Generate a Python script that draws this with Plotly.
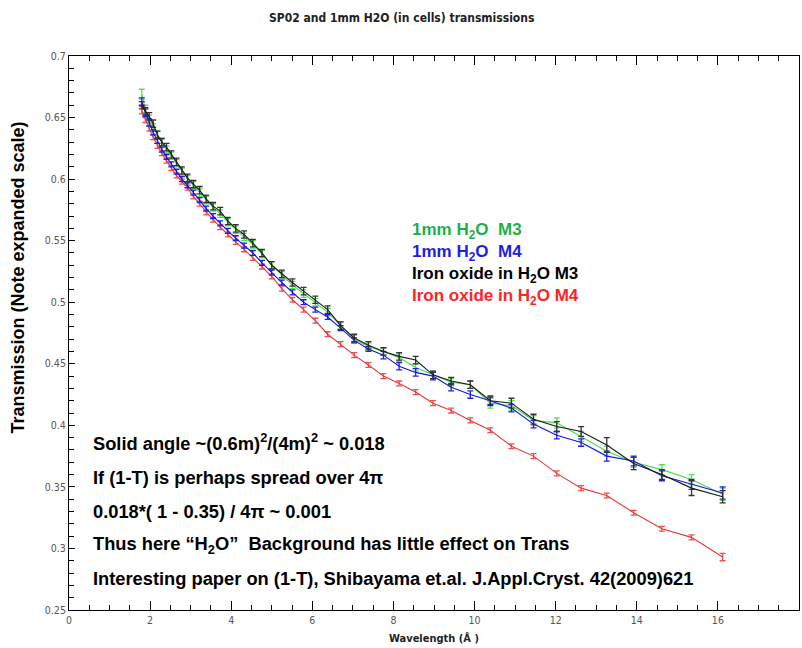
import plotly.graph_objects as go

# Wavelength bin centres (Angstrom)
wavelength = [1.794, 1.883, 1.978, 2.076, 2.180, 2.289, 2.404, 2.524, 2.650, 2.783,
              2.922, 3.068, 3.221, 3.382, 3.552, 3.729, 3.916, 4.111, 4.317, 4.533,
              4.759, 4.997, 5.247, 5.510, 5.785, 6.074, 6.378, 6.697, 7.032, 7.383,
              7.753, 8.140, 8.547, 8.975, 9.423, 9.895, 10.389, 10.909, 11.454, 12.027,
              12.628, 13.260, 13.923, 14.619, 15.350, 16.117]

water_m3 = [0.669, 0.657, 0.649, 0.642, 0.636, 0.630, 0.624, 0.619, 0.613, 0.606,
            0.600, 0.595, 0.589, 0.583, 0.577, 0.572, 0.565, 0.559, 0.553, 0.547,
            0.539, 0.530, 0.522, 0.514, 0.507, 0.500, 0.492, 0.481, 0.470, 0.464,
            0.460, 0.455, 0.447, 0.441, 0.435, 0.433, 0.418, 0.416, 0.404, 0.402,
            0.391, 0.379, 0.370, 0.364, 0.356, 0.344]
water_m3_err = [0.004, 0.003, 0.003, 0.003, 0.003, 0.003, 0.003, 0.003, 0.003, 0.003,
                0.003, 0.003, 0.003, 0.003, 0.003, 0.003, 0.003, 0.003, 0.003, 0.003,
                0.003, 0.003, 0.003, 0.003, 0.003, 0.003, 0.003, 0.003, 0.003, 0.003,
                0.003, 0.003, 0.003, 0.003, 0.003, 0.003, 0.004, 0.004, 0.004, 0.004,
                0.004, 0.004, 0.004, 0.004, 0.004, 0.005]

water_m4 = [0.663, 0.654, 0.646, 0.638, 0.631, 0.624, 0.618, 0.612, 0.606, 0.600,
            0.595, 0.589, 0.583, 0.576, 0.570, 0.564, 0.558, 0.552, 0.546, 0.540,
            0.532, 0.524, 0.516, 0.508, 0.500, 0.494, 0.488, 0.479, 0.469, 0.462,
            0.457, 0.448, 0.443, 0.440, 0.431, 0.425, 0.420, 0.414, 0.401, 0.392,
            0.386, 0.375, 0.371, 0.359, 0.352, 0.345]
water_m4_err = [0.003, 0.003, 0.003, 0.002, 0.002, 0.002, 0.002, 0.002, 0.002, 0.002,
                0.002, 0.002, 0.002, 0.002, 0.002, 0.002, 0.002, 0.002, 0.002, 0.002,
                0.002, 0.002, 0.002, 0.002, 0.002, 0.002, 0.002, 0.002, 0.002, 0.002,
                0.003, 0.003, 0.003, 0.003, 0.003, 0.003, 0.003, 0.003, 0.003, 0.003,
                0.003, 0.004, 0.004, 0.004, 0.004, 0.005]

iron_m3 = [0.660, 0.655, 0.651, 0.645, 0.636, 0.630, 0.626, 0.620, 0.614, 0.607,
           0.601, 0.596, 0.591, 0.584, 0.578, 0.574, 0.566, 0.560, 0.555, 0.548,
           0.540, 0.530, 0.523, 0.516, 0.509, 0.502, 0.494, 0.481, 0.471, 0.465,
           0.460, 0.456, 0.453, 0.441, 0.436, 0.433, 0.420, 0.418, 0.405, 0.399,
           0.395, 0.384, 0.369, 0.360, 0.349, 0.342]
iron_m3_err = [0.003, 0.003, 0.003, 0.003, 0.003, 0.003, 0.003, 0.003, 0.003, 0.003,
               0.003, 0.003, 0.003, 0.003, 0.003, 0.003, 0.003, 0.003, 0.003, 0.003,
               0.003, 0.003, 0.003, 0.003, 0.003, 0.003, 0.003, 0.003, 0.003, 0.003,
               0.003, 0.003, 0.003, 0.003, 0.003, 0.003, 0.004, 0.004, 0.004, 0.004,
               0.004, 0.006, 0.005, 0.004, 0.006, 0.005]

iron_m4 = [0.656, 0.648, 0.641, 0.634, 0.627, 0.621, 0.615, 0.609, 0.603, 0.598,
           0.593, 0.586, 0.580, 0.573, 0.567, 0.561, 0.555, 0.549, 0.543, 0.536,
           0.529, 0.521, 0.511, 0.502, 0.494, 0.485, 0.474, 0.466, 0.457, 0.449,
           0.440, 0.434, 0.427, 0.418, 0.412, 0.404, 0.396, 0.383, 0.375, 0.361,
           0.349, 0.343, 0.329, 0.316, 0.309, 0.293]
iron_m4_err = [0.003, 0.002, 0.002, 0.002, 0.002, 0.002, 0.002, 0.002, 0.002, 0.002,
               0.002, 0.002, 0.002, 0.002, 0.002, 0.002, 0.002, 0.002, 0.002, 0.002,
               0.002, 0.002, 0.002, 0.002, 0.002, 0.002, 0.002, 0.002, 0.002, 0.002,
               0.002, 0.002, 0.002, 0.002, 0.002, 0.002, 0.002, 0.002, 0.002, 0.002,
               0.002, 0.002, 0.002, 0.002, 0.002, 0.003]

x_ticks = [0, 2, 4, 6, 8, 10, 12, 14, 16, 18]
y_ticks = [0.25, 0.3, 0.35, 0.4, 0.45, 0.5, 0.55, 0.6, 0.65, 0.7]

series = [
    ("1mm H2O M3", water_m3, water_m3_err, "#44dd44", "#55e055"),
    ("Iron oxide in H2O M4", iron_m4, iron_m4_err, "#e63838", "#f05050"),
    ("1mm H2O M4", water_m4, water_m4_err, "#1414e6", "#2020ee"),
    ("Iron oxide in H2O M3", iron_m3, iron_m3_err, "#1a1a1a", "#333333"),
]

fig = go.Figure()
for name, yv, ev, lc, ec in series:
    fig.add_trace(go.Scatter(
        x=wavelength, y=yv, name=name, mode="lines",
        line=dict(color=lc, width=1.1),
        error_y=dict(type="data", array=ev, visible=True, color=ec, thickness=1.3, width=3),
        showlegend=False,
    ))

tickfont = dict(family="DejaVu Sans Condensed, DejaVu Sans, sans-serif", size=10.5, color="#555555")

fig.update_layout(
    width=802, height=648,
    margin=dict(l=69, r=3, t=56, b=38),
    paper_bgcolor="white", plot_bgcolor="white",
    showlegend=False,
    xaxis=dict(
        range=[0, 18], tickvals=x_ticks, ticks="inside", ticklen=9, tickcolor="black",
        minor=dict(dtick=0.5, ticks="inside", ticklen=5, tickcolor="black"),
        showgrid=False, zeroline=False, showline=True, linecolor="black", linewidth=1,
        mirror="ticks", tickfont=tickfont,
        title=dict(text="Wavelength (Å )", standoff=9,
                   font=dict(family="DejaVu Sans Condensed, DejaVu Sans, sans-serif",
                             size=11, color="#222222", weight="bold")),
    ),
    yaxis=dict(
        range=[0.25, 0.7], tickvals=y_ticks, ticks="inside", ticklen=6, tickcolor="black",
        minor=dict(dtick=0.01, ticks="inside", ticklen=5, tickcolor="black"),
        showgrid=False, zeroline=False, showline=True, linecolor="black", linewidth=1,
        mirror=True, tickfont=tickfont,
    ),
    yaxis2=dict(
        overlaying="y", side="right", range=[0, 20], dtick=1, ticks="inside",
        ticklen=6, tickcolor="black", showticklabels=False, showgrid=False,
        zeroline=False, showline=False,
    ),
)

annotations = []
# Title
annotations.append(dict(
    text="SP02 and 1mm H2O (in cells) transmissions", xref="paper", yref="paper",
    x=0.456, y=1.068, showarrow=False, xanchor="center", yanchor="middle",
    font=dict(family="DejaVu Sans Condensed, DejaVu Sans, sans-serif", size=12,
              color="#222222", weight="bold")))
# Y title
annotations.append(dict(
    text="Transmission (Note expanded scale)", xref="paper", yref="paper",
    x=-0.0699, y=0.600, showarrow=False, textangle=-90, xanchor="center", yanchor="middle",
    font=dict(family="Liberation Sans, Arial, sans-serif", size=18, color="black",
              weight="bold")))

legend_items = [
    ("1mm H<sub>2</sub>O  M3", "#1fae4a"),
    ("1mm H<sub>2</sub>O  M4", "#1e1ee6"),
    ("Iron oxide in H<sub>2</sub>O M3", "#000000"),
    ("Iron oxide in H<sub>2</sub>O M4", "#ff2424"),
]
legend_text = "<br>".join(
    '<span style="color:%s">%s</span>' % (col, txt) for txt, col in legend_items)
annotations.append(dict(
    text=legend_text, xref="paper", yref="paper", x=0.4671, y=0.6251, showarrow=False,
    xanchor="left", yanchor="middle", align="left",
    font=dict(family="Liberation Sans, Arial, sans-serif", size=17, color="black",
              weight="bold")))

notes = [
    ("Solid angle ~(0.6m)<sup>2</sup>/(4m)<sup>2</sup> ~ 0.018", 0.3031),
    ("If (1-T) is perhaps spread over 4π", 0.2399),
    ("0.018*( 1 - 0.35) / 4π ~ 0.001", 0.1786),
    ("Thus here “H<sub>2</sub>O”  Background has little effect on Trans", 0.1173),
    ("Interesting paper on (1-T), Shibayama et.al. J.Appl.Cryst. 42(2009)621", 0.0577),
]
for txt, yy in notes:
    annotations.append(dict(
        text=txt, xref="paper", yref="paper", x=0.0301, y=yy, showarrow=False,
        xanchor="left", yanchor="middle",
        font=dict(family="Liberation Sans, Arial, sans-serif", size=18.3, color="black",
                  weight="bold")))

fig.update_layout(annotations=annotations)
fig.write_html("out.html")
